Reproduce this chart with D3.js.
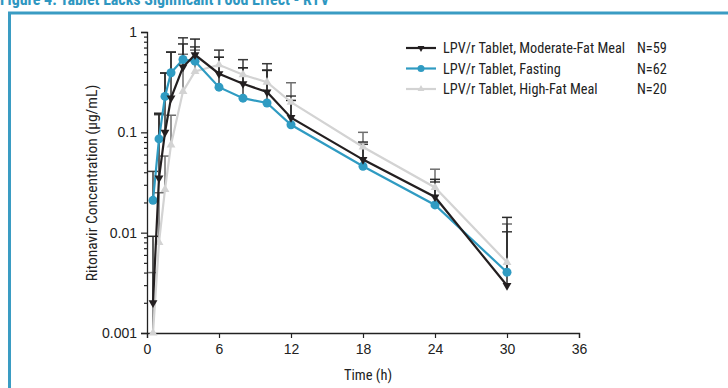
<!DOCTYPE html>
<html>
<head>
<meta charset="utf-8">
<script src="https://cdn.jsdelivr.net/npm/d3@7"></script>
<style>
  body { margin: 0; background: #fff; }
  svg { display: block; font-family: "Liberation Sans Narrow", "Arial Narrow", "Roboto Condensed", sans-serif; }
</style>
</head>
<body>
<div id="chart"></div>
<script>
// sampling times (h)
const times = [0.5, 1, 1.5, 2, 3, 4, 6, 8, 10, 12, 18, 24, 30];

// mean concentrations (ug/mL)
const moderateMean = [0.002, 0.035, 0.10, 0.22, 0.447, 0.593, 0.384, 0.305, 0.252, 0.14, 0.0535, 0.0227, 0.00297];
const fastingMean  = [0.021, 0.086, 0.228, 0.393, 0.532, 0.512, 0.282, 0.219, 0.196, 0.119, 0.0459, 0.0189, 0.00403];
const highFatMean  = [0.001, 0.008, 0.027, 0.075, 0.256, 0.404, 0.471, 0.375, 0.316, 0.20, 0.0714, 0.0282, 0.00506];

// upper error bar (mean + SD)
const moderateUpper = [0.0092, 0.155, 0.39, 0.63, 0.76, 0.85, 0.56, 0.44, 0.414, 0.208, 0.08, 0.034, 0.0142];
const fastingUpper  = [0.0408, 0.15, 0.39, 0.63, 0.875, 0.71, 0.66, 0.53, 0.483, 0.23, 0.076, 0.032, 0.0102];
const highFatUpper  = [0.004, 0.025, 0.058, 0.148, 0.60, 0.66, 0.56, 0.44, 0.42, 0.312, 0.1, 0.0429, 0.0122];

const seriesNames = ["LPV/r Tablet, Moderate-Fat Meal", "LPV/r Tablet, Fasting", "LPV/r Tablet, High-Fat Meal"];
const seriesN = ["N=59", "N=62", "N=20"];

const xTicks = [0, 6, 12, 18, 24, 30, 36];
const yTicks = [0.001, 0.01, 0.1, 1];

const width = 728, height = 388;
const margin = { left: 147, right: 149, top: 32, bottom: 55 };

const svg = d3.select("#chart").append("svg")
    .attr("width", width)
    .attr("height", height);

// frame + title (clipped at the top, as in the source)
svg.append("text")
    .attr("x", 0).attr("y", 5)
    .attr("fill", "#2f97c1")
    .attr("font-weight", "bold")
    .attr("font-size", 16)
    .text("Figure 4. Tablet Lacks Significant Food Effect - RTV");

svg.append("path")
    .attr("d", "M9.5," + height + "V13H" + width)
    .attr("fill", "none")
    .attr("stroke", "#3a9cc3")
    .attr("stroke-width", 3);

const x = d3.scaleLinear()
    .domain([0, 36])
    .range([margin.left, width - margin.right]);

const y = d3.scaleLog()
    .domain([0.001, 1])
    .range([height - margin.bottom, margin.top]);

// axes
svg.append("g")
    .attr("transform", "translate(0," + y(0.001) + ")")
    .call(d3.axisBottom(x).tickValues(xTicks).tickSize(5).tickPadding(6).tickFormat(d3.format("d")));

const minor = [];
for (let p = -3; p < 0; p++) {
  for (let k = 2; k <= 9; k++) minor.push(k * Math.pow(10, p));
}

svg.append("g")
    .attr("transform", "translate(" + x(0) + ",0)")
    .call(d3.axisLeft(y).tickValues(yTicks).tickSize(6).tickPadding(4).tickFormat(d => String(d)));

svg.append("g")
    .attr("transform", "translate(" + x(0) + ",0)")
    .call(d3.axisLeft(y).tickValues(minor).tickSize(3).tickFormat(""))
    .call(g => g.select(".domain").remove());

svg.selectAll(".domain").attr("stroke", "#222").attr("stroke-width", 1.3);
svg.selectAll(".tick line").attr("stroke", "#222").attr("stroke-width", 1.2);
svg.selectAll(".tick text").attr("fill", "#222").attr("font-size", 14)
    .attr("font-family", "inherit");

svg.append("text")
    .attr("x", 368).attr("y", 380)
    .attr("text-anchor", "middle")
    .attr("font-size", 14.5)
    .attr("fill", "#222")
    .text("Time (h)");

svg.append("text")
    .attr("transform", "translate(97,183) rotate(-90)")
    .attr("text-anchor", "middle")
    .attr("font-size", 15.5)
    .attr("fill", "#222")
    .text("Ritonavir Concentration (\u00b5g/mL)");

// series
const series = [
  { name: seriesNames[0], n: seriesN[0], mean: moderateMean, upper: moderateUpper, color: "#231f20", bar: "#2a2a2a", shape: "down" },
  { name: seriesNames[1], n: seriesN[1], mean: fastingMean, upper: fastingUpper, color: "#2f9bc2", bar: "#3a3a3a", shape: "circle" },
  { name: seriesNames[2], n: seriesN[2], mean: highFatMean, upper: highFatUpper, color: "#d3d3d3", bar: "#6e6e6e", shape: "up" }
];

const line = d3.line()
    .x(d => x(d[0]))
    .y(d => y(d[1]));

function marker(g, s, px, py) {
  if (s.shape === "circle") {
    g.append("circle").attr("cx", px).attr("cy", py).attr("r", 4.5).attr("fill", s.color);
  } else {
    const sym = d3.symbol().type(d3.symbolTriangle).size(34);
    g.append("path")
        .attr("d", sym())
        .attr("transform", "translate(" + px + "," + py + ")" + (s.shape === "down" ? " rotate(180)" : ""))
        .attr("fill", s.color);
  }
}

// error bars (drawn under the lines)
const bars = svg.append("g");
[2, 1, 0].forEach(i => {
  const s = series[i];
  times.forEach((t, j) => {
    const px = x(t), y0 = y(s.mean[j]), y1 = y(s.upper[j]);
    bars.append("line")
        .attr("x1", px).attr("x2", px).attr("y1", y0).attr("y2", y1)
        .attr("stroke", s.bar).attr("stroke-width", 1.5);
    bars.append("line")
        .attr("x1", px - 5).attr("x2", px + 5).attr("y1", y1).attr("y2", y1)
        .attr("stroke", s.bar).attr("stroke-width", 1.5);
  });
});

[2, 1, 0].forEach(i => {
  const s = series[i];
  const g = svg.append("g");
  g.append("path")
      .datum(times.map((t, j) => [t, s.mean[j]]))
      .attr("d", line)
      .attr("fill", "none")
      .attr("stroke", s.color)
      .attr("stroke-width", 2.2);
  times.forEach((t, j) => marker(g, s, x(t), y(s.mean[j])));
});

// legend
const legend = svg.append("g");
series.forEach((s, i) => {
  const ly = 48 + i * 20.5;
  const g = legend.append("g");
  g.append("line")
      .attr("x1", 406).attr("x2", 436).attr("y1", ly).attr("y2", ly)
      .attr("stroke", s.color).attr("stroke-width", 2.2);
  if (s.shape === "circle") {
    g.append("circle").attr("cx", 421).attr("cy", ly).attr("r", 3.5).attr("fill", s.color);
  } else {
    g.append("path")
        .attr("d", d3.symbol().type(d3.symbolTriangle).size(20)())
        .attr("transform", "translate(421," + ly + ")" + (s.shape === "down" ? " rotate(180)" : ""))
        .attr("fill", s.color);
  }
  g.append("text")
      .attr("x", 443).attr("y", ly + 5)
      .attr("font-size", 14.3).attr("fill", "#222")
      .text(s.name);
  g.append("text")
      .attr("x", 637).attr("y", ly + 5)
      .attr("font-size", 14.3).attr("fill", "#222")
      .text(s.n);
});
</script>
</body>
</html>
